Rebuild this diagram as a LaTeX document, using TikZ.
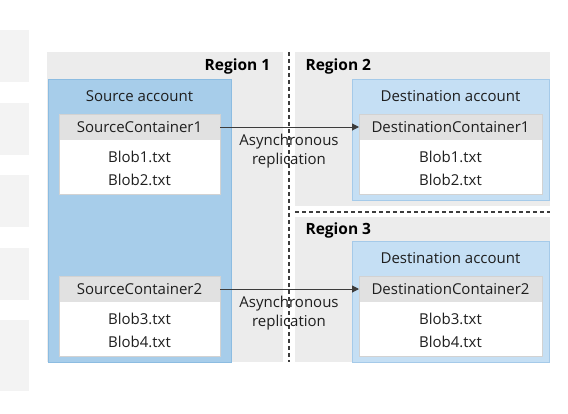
\documentclass[tikz,border=0pt]{standalone}
\usepackage{fontspec}
\setmainfont{Open Sans}
\usetikzlibrary{arrows.meta}
\definecolor{regiongray}{HTML}{ECECEC}
\definecolor{stripgray}{HTML}{F3F3F3}
\definecolor{srcblue}{HTML}{A7CDEA}
\definecolor{srcborder}{HTML}{8CBCE1}
\definecolor{dstblue}{HTML}{C5DFF4}
\definecolor{dstborder}{HTML}{A5CAE9}
\definecolor{hdrgray}{HTML}{E1E1E1}
\definecolor{contborder}{HTML}{D2D2D2}
\definecolor{txt}{HTML}{1E1E1E}
\definecolor{linegray}{HTML}{3C3C3C}
\begin{document}
\begin{tikzpicture}[x=1pt,y=-1pt,
  every node/.style={text=txt,font=\fontsize{15}{18}\selectfont},
  box/.style={rectangle,inner sep=0pt,outer sep=0pt,anchor=north west},
  strip/.style={box,fill=stripgray,minimum width=29pt,draw=none},
  region/.style={box,fill=regiongray,draw=none},
  srcacc/.style={box,fill=srcblue,draw=srcborder,line width=0.8pt},
  dstacc/.style={box,fill=dstblue,draw=dstborder,line width=0.8pt},
  cont/.style={box,fill=white,draw=contborder,line width=0.8pt,minimum height=80pt},
  hdr/.style={box,fill=hdrgray,minimum height=25pt},
  reglabel/.style={font=\fontsize{15.5}{18}\selectfont\bfseries,text=black},
  sep/.style={draw=linegray,dashed,dash pattern=on 4pt off 3pt,line width=1.1pt},
  arr/.style={draw=linegray,line width=1pt,-{Triangle[length=7pt,width=7pt]}},
  lbl/.style={align=center,font=\fontsize{15}{19}\selectfont}
]
\useasboundingbox (0,0) rectangle (568,413);
\fill[white] (0,0) rectangle (568,413);
% left strip
\node[strip,minimum height=52pt] (s1) at (0,30) {};
\node[strip,minimum height=52pt] (s2) at (0,103) {};
\node[strip,minimum height=52pt] (s3) at (0,175) {};
\node[strip,minimum height=52pt] (s4) at (0,248) {};
\node[strip,minimum height=71pt] (s5) at (0,320) {};
% regions
\node[region,minimum width=236pt,minimum height=310pt] (r1) at (47,52) {};
\node[region,minimum width=255pt,minimum height=154pt] (r2) at (295,52) {};
\node[region,minimum width=255pt,minimum height=145pt] (r3) at (295,217) {};
\node[reglabel] (r1l) at (237.5,66) {Region 1};
\node[reglabel,anchor=west] (r2l) at (302,66) {Region 2};
\node[reglabel,anchor=west] (r3l) at (302,230) {Region 3};
% separators
\coordinate (v1) at (289,52);
\coordinate (v2) at (289,362);
\coordinate (h1) at (295,212);
\coordinate (h2) at (550,212);
\draw[sep] (v1) -- (v2);
\draw[sep] (h1) -- (h2);
% accounts
\node[srcacc,minimum width=183pt,minimum height=283pt] (sa) at (48,79) {};
\node (sal) at (139.5,96) {Source account};
\node[dstacc,minimum width=197pt,minimum height=121pt] (da1) at (352,79) {};
\node (da1l) at (450.5,96) {Destination account};
\node[dstacc,minimum width=197pt,minimum height=121pt] (da2) at (352,241) {};
\node (da2l) at (450.5,258) {Destination account};
% source containers
\node[cont,minimum width=161pt] (sc1) at (59,114) {};
\node[hdr,minimum width=160pt] (sc1h) at (59.5,114.5) {};
\node (sc1t) at (139.5,127.5) {SourceContainer1};
\node (b1) at (139.5,157) {Blob1.txt};
\node (b2) at (139.5,180) {Blob2.txt};
\node[cont,minimum width=161pt] (sc2) at (59,276) {};
\node[hdr,minimum width=160pt] (sc2h) at (59.5,276.5) {};
\node (sc2t) at (139.5,289.5) {SourceContainer2};
\node (b3) at (139.5,319) {Blob3.txt};
\node (b4) at (139.5,342) {Blob4.txt};
% destination containers
\node[cont,minimum width=183pt] (dc1) at (359,114) {};
\node[hdr,minimum width=182pt] (dc1h) at (359.5,114.5) {};
\node (dc1t) at (450.5,127.5) {DestinationContainer1};
\node (db1) at (450.5,157) {Blob1.txt};
\node (db2) at (450.5,180) {Blob2.txt};
\node[cont,minimum width=183pt] (dc2) at (359,276) {};
\node[hdr,minimum width=182pt] (dc2h) at (359.5,276.5) {};
\node (dc2t) at (450.5,289.5) {DestinationContainer2};
\node (db3) at (450.5,319) {Blob3.txt};
\node (db4) at (450.5,342) {Blob4.txt};
% arrows
\draw[arr] (sc1.east |- sc1h) -- (dc1.west |- dc1h);
\draw[arr] (sc2.east |- sc2h) -- (dc2.west |- dc2h);
\node[lbl] (a1) at (289,151) {Asynchronous\\replication};
\node[lbl] (a2) at (289,313) {Asynchronous\\replication};
\end{tikzpicture}
\end{document}
